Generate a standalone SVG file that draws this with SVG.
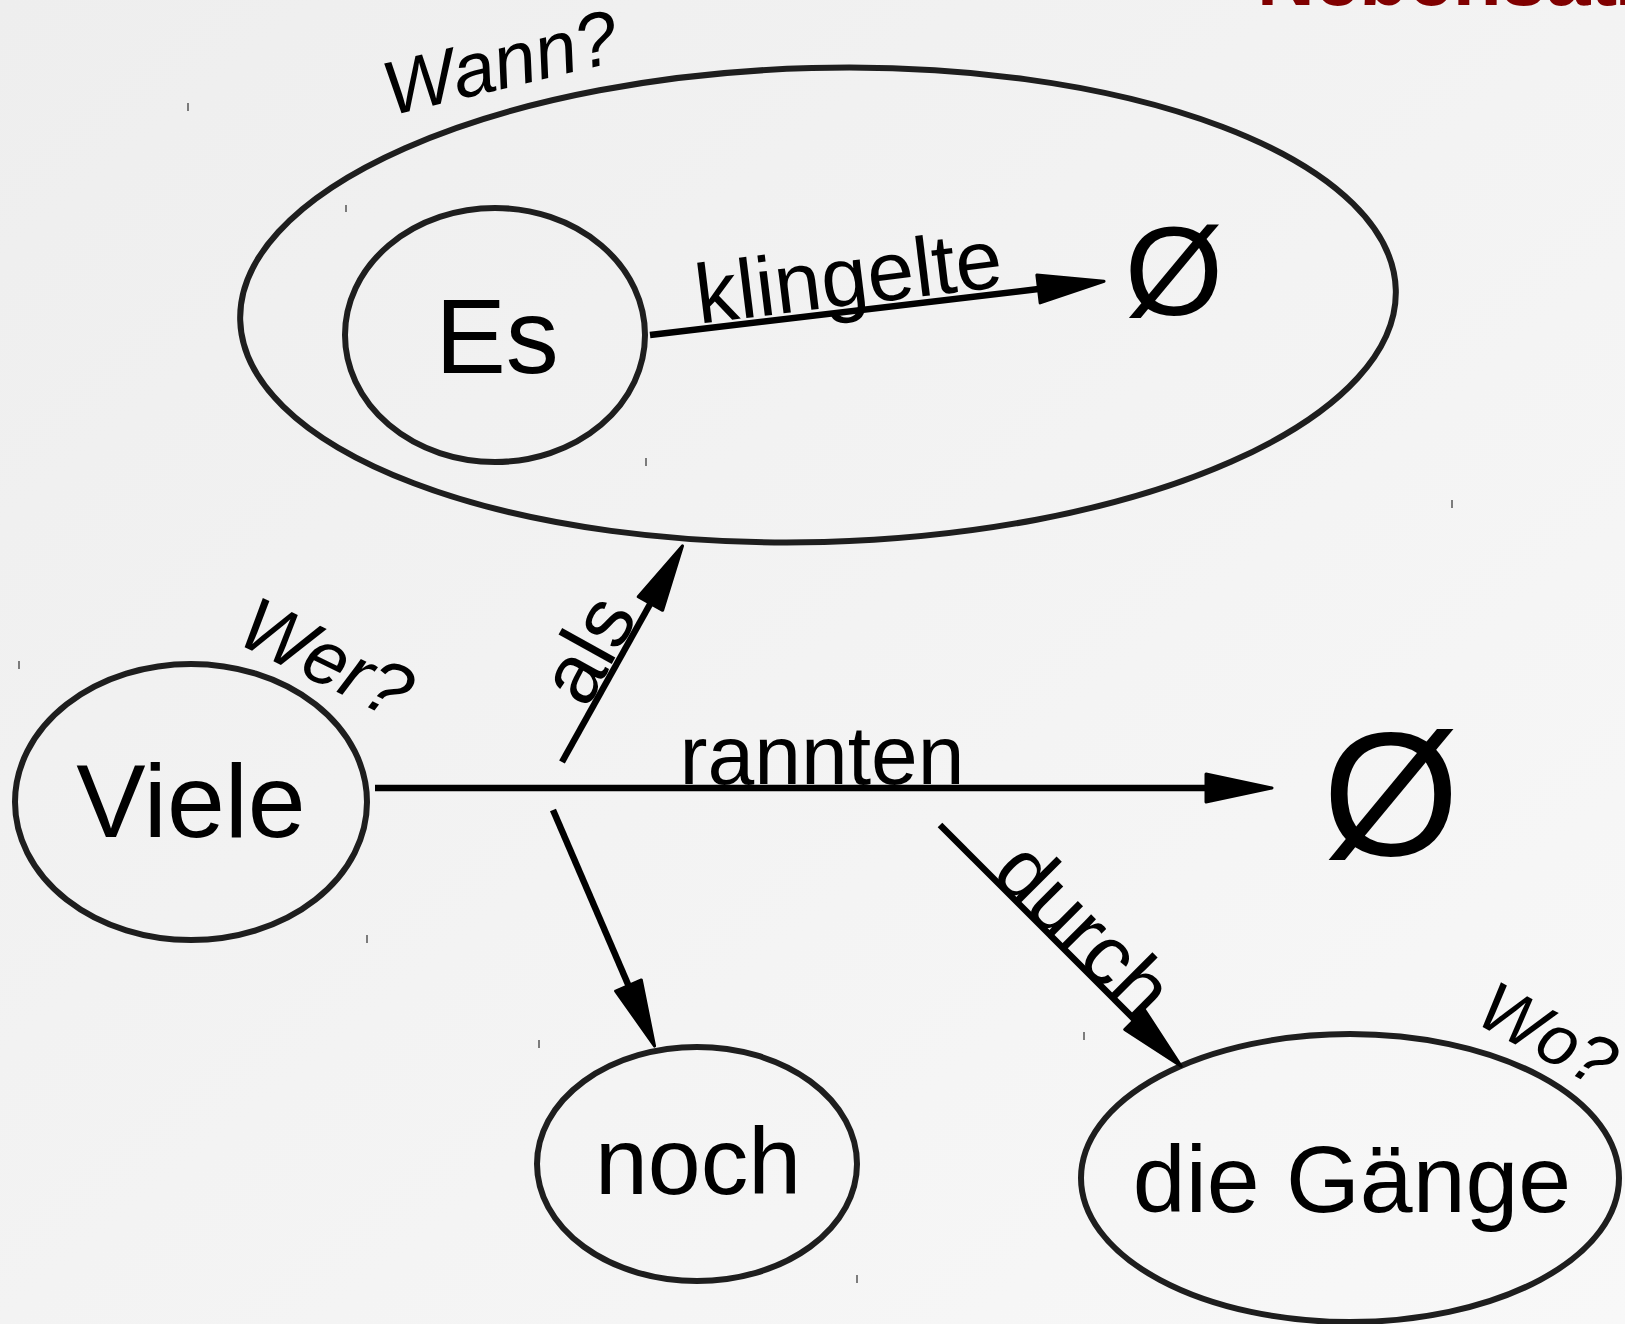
<svg xmlns="http://www.w3.org/2000/svg" width="1625" height="1324" viewBox="0 0 1625 1324">
<defs>
<linearGradient id="bg" x1="0" y1="0" x2="1" y2="1">
<stop offset="0" stop-color="#eeeeee"/>
<stop offset="1" stop-color="#f8f8f8"/>
</linearGradient>
<marker id="ah" markerUnits="userSpaceOnUse" markerWidth="90" markerHeight="50" viewBox="-10 -25 90 50" refX="0" refY="0" orient="auto" overflow="visible">
<path d="M0,-14 L66,0 L0,14 Z" fill="#000" stroke="#000" stroke-width="3" stroke-linejoin="round"/>
</marker>
<style>
.node{fill:none;stroke:#1e1e1e;stroke-width:6}
.edge{fill:none;stroke:#000;stroke-width:6.5;marker-end:url(#ah)}
.t{font-family:"Liberation Sans",Arial,sans-serif;fill:#000;text-anchor:middle}
.q{font-family:"Liberation Sans",Arial,sans-serif;font-style:italic;font-size:76px;fill:#000}
.el{font-family:"Liberation Sans",Arial,sans-serif;font-size:84px;fill:#000;text-anchor:middle}
.tick{stroke:#555;stroke-width:1.5}
</style>
</defs>
<rect width="1625" height="1324" fill="url(#bg)"/>
<text x="1257" y="5" font-family="'Liberation Sans',Arial,sans-serif" font-weight="bold" font-size="80" fill="#800000">Nebensatz</text>
<g id="ticks">
<line class="tick" x1="188" y1="103" x2="188" y2="111"/>
<line class="tick" x1="346" y1="205" x2="346" y2="212"/>
<line class="tick" x1="646" y1="458" x2="646" y2="466"/>
<line class="tick" x1="1452" y1="500" x2="1452" y2="508"/>
<line class="tick" x1="19" y1="661" x2="19" y2="669"/>
<line class="tick" x1="367" y1="935" x2="367" y2="943"/>
<line class="tick" x1="539" y1="1040" x2="539" y2="1048"/>
<line class="tick" x1="1084" y1="1032" x2="1084" y2="1040"/>
<line class="tick" x1="857" y1="1275" x2="857" y2="1283"/>
</g>
<g id="node-wann">
<ellipse class="node" cx="818" cy="305" rx="578" ry="237" transform="rotate(-1.5 818 305)"/>
<text class="q" transform="translate(390 116) rotate(-13.5)">Wann?</text>
</g>
<g id="node-es">
<ellipse class="node" cx="495" cy="335" rx="150" ry="127"/>
<text class="t" x="497" y="373" font-size="106">Es</text>
</g>
<g id="node-null1">
<text class="t" x="1174" y="315" font-size="127">Ø</text>
</g>
<g id="node-viele">
<ellipse class="node" cx="191" cy="802" rx="176" ry="138"/>
<text class="t" x="191" y="837" font-size="104">Viele</text>
<text class="q" transform="translate(234 642) rotate(26)">Wer?</text>
</g>
<g id="node-null2">
<text class="t" x="1391" y="855" font-size="176">Ø</text>
</g>
<g id="node-noch">
<ellipse class="node" cx="697" cy="1164" rx="160" ry="117"/>
<text class="t" x="698" y="1194" font-size="95">noch</text>
</g>
<g id="node-gaenge">
<ellipse class="node" cx="1350" cy="1178" rx="269" ry="144"/>
<text class="t" x="1352" y="1212" font-size="95">die Gänge</text>
<text class="q" font-size="70" style="font-size:70px" transform="translate(1473 1022) rotate(28)">Wo?</text>
</g>
<g id="connectors">
<line class="edge" x1="650" y1="335" x2="1038.5" y2="289"/>
<text class="el" transform="translate(852 305) rotate(-7)">klingelte</text>
<line class="edge" x1="375" y1="788" x2="1206" y2="788"/>
<text class="el" x="822" y="784">rannten</text>
<line class="edge" x1="562" y1="762" x2="650.4" y2="603.5"/>
<text class="el" transform="translate(612.5 663) rotate(-60.9)">als</text>
<line class="edge" x1="553" y1="810" x2="628.5" y2="985.5"/>
<line class="edge" x1="940" y1="825" x2="1134.6" y2="1019.6"/>
<text class="el" transform="translate(1064 950) rotate(45)">durch</text>
</g>
</svg>
